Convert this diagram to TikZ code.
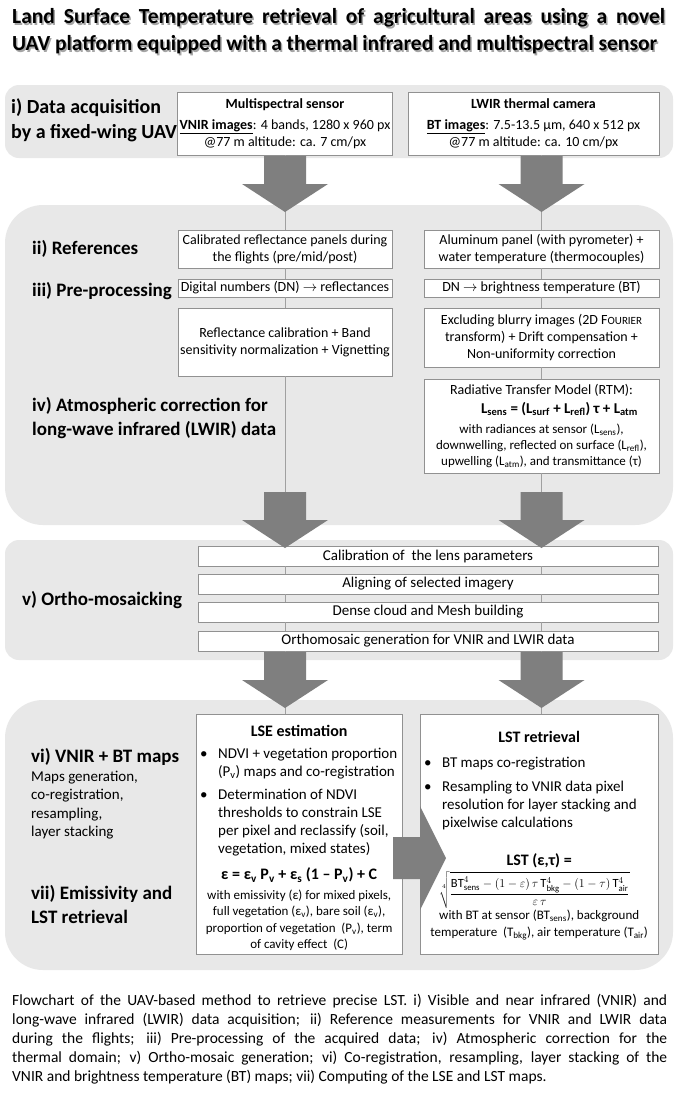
\documentclass[tikz,border=0pt]{standalone}
\usepackage{fontspec}
\setmainfont{Carlito}
\usetikzlibrary{positioning}
\definecolor{bandgray}{RGB}{232,232,232}
\definecolor{arrowgray}{RGB}{127,127,127}
\definecolor{boxline}{RGB}{145,145,145}
\definecolor{linkgray}{RGB}{160,160,160}
\definecolor{shadowgray}{RGB}{165,165,165}
\newcommand\boxfont{\fontsize{14}{17}\selectfont}
\newcommand\notefont{\fontsize{13}{16.5}\selectfont}
\newcommand\labelfont{\fontsize{19}{24}\selectfont\bfseries}
\newcommand\sub[1]{\textsubscript{#1}}
\newcommand\bul[1]{\par\hangindent=22pt\hangafter=1\noindent\makebox[22pt][l]{\hspace{4pt}\textbullet}#1\par}
\tikzset{%
  downblock/.pic={%
    \fill [arrowgray] (-21,0) -- (21,0) -- (21,28) -- (43,28) -- (0,56) -- (-43,28) -- (-21,28) -- cycle;
  },
  rightblock/.pic={%
    \fill [arrowgray] (0,-21) -- (27,-21) -- (27,-52) -- (53,0) -- (27,52) -- (27,21) -- (0,21) -- cycle;
  },
}

\begin{document}
\begin{tikzpicture}
    [x=1pt, y=-1pt,
    band/.style={fill=bandgray},
    box/.style={draw=boxline, fill=white, align=center, inner sep=2pt, font=\boxfont},
    link/.style={draw=linkgray, line width=0.8pt},
    seclabel/.style={anchor=west, align=left, inner sep=0pt, font=\labelfont},
    titleline/.style={anchor=west, inner sep=0pt, font=\fontsize{21.5}{21.5}\selectfont\bfseries}]
    \fill [white] (0,0) rectangle (679,1096);
    \useasboundingbox (0,0) rectangle (679,1096);

    % title with shadow
    \node [titleline, text=shadowgray] (titleAshadow) at (13.5,19.5)
    {\makebox[653pt][s]{Land Surface Temperature retrieval of agricultural areas using a novel}};
    \node [titleline] (titleA) at (12,18)
    {\makebox[653pt][s]{Land Surface Temperature retrieval of agricultural areas using a novel}};
    \node [titleline, text=shadowgray] (titleBshadow) at (13.5,46.5)
    {\makebox[645pt][s]{UAV platform equipped with a thermal infrared and multispectral sensor}};
    \node [titleline] (titleB) at (12,45)
    {\makebox[645pt][s]{UAV platform equipped with a thermal infrared and multispectral sensor}};

    % bands
    \fill [band, rounded corners=14pt] (5,85) rectangle (673,158);
    \fill [band, rounded corners=38pt] (5,205) rectangle (673,525);
    \fill [band, rounded corners=14pt] (5,540) rectangle (673,660);
    \fill [band, rounded corners=38pt] (5,700) rectangle (673,970);

    % section labels
    \node [seclabel, font=\fontsize{20}{25}\selectfont\bfseries] (labI) at (11,120) {i) Data acquisition\\by a fixed-wing UAV};
    \node [seclabel] (labII) at (32,249) {ii) References};
    \node [seclabel] (labIII) at (32,291) {iii) Pre-processing};
    \node [seclabel] (labIV) at (32,418) {iv) Atmospheric correction for\\long-wave infrared (LWIR) data};
    \node [seclabel] (labV) at (22,600) {v) Ortho-mosaicking};
    \node [seclabel] (labVI) at (31,757) {vi) VNIR + BT maps};
    \node [below=5pt of labVI.south west, anchor=north west, inner sep=0pt, align=left,
    font=\fontsize{15}{18.5}\selectfont] (labVIsub) {Maps generation,\\co-registration,\\resampling,\\layer stacking};
    \node [seclabel] (labVII) at (31,905) {vii) Emissivity and\\LST retrieval};

    % i) acquisition
    \node [box, minimum width=214pt, minimum height=63pt, font=\fontsize{14}{17}\selectfont] (msbox) at (285,123.5)
    {\textbf{Multispectral sensor}\\[4pt] \underline{\textbf{VNIR images}}: 4 bands, 1280 x 960 px\\ @77 m altitude: ca. 7 cm/px};
    \node [box, minimum width=251pt, minimum height=63pt, font=\fontsize{14}{17}\selectfont] (lwbox) at (533.5,123.5)
    {\textbf{LWIR thermal camera}\\[4pt] \underline{\textbf{BT images}}: 7.5-13.5 µm, 640 x 512 px\\ @77 m altitude: ca. 10 cm/px};

    % ii) - iv)
    \node [box, minimum width=214pt, minimum height=38pt] (refL) at (285,249)
    {Calibrated reflectance panels during\\the flights (pre/mid/post)};
    \node [box, minimum width=235pt, minimum height=38pt] (refR) at (541.5,249)
    {Aluminum panel (with pyrometer) +\\water temperature (thermocouples)};
    \node [box, minimum width=214pt, minimum height=18pt] (preL) at (285,288)
    {Digital numbers (DN) $\rightarrow$ reflectances};
    \node [box, minimum width=235pt, minimum height=18pt] (preR) at (541.5,288)
    {DN $\rightarrow$ brightness temperature (BT)};
    \node [box, minimum width=214pt, minimum height=68pt] (calibL) at (285,342)
    {Reflectance calibration + Band\\sensitivity normalization + Vignetting};
    \node [box, minimum width=235pt, minimum height=59pt] (blurR) at (541.5,337.5)
    {Excluding blurry images (2D F{\fontsize{11}{11}\selectfont OURIER}\\transform) + Drift compensation +\\Non-uniformity correction};
    \node [box, inner sep=0pt] (rtm) at (541.5,426)
    {\parbox[c][94pt][c]{235pt}{\centering Radiative Transfer Model (RTM):\par
    {\fontsize{15}{18.5}\selectfont\bfseries\hspace*{36pt}L\sub{sens} = (L\sub{surf} + L\sub{refl}) τ + L\sub{atm}\par}
    \vspace{4pt}
    {\fontsize{13}{16}\selectfont with radiances at sensor (L\sub{sens}),\\ downwelling, reflected on surface (L\sub{refl}),\\
    upwelling (L\sub{atm}), and transmittance (τ)\par}}};

    % v) ortho-mosaicking
    \node [box, minimum width=460pt, minimum height=20pt, font=\fontsize{15}{17}\selectfont] (lens) at (428,556)
    {Calibration of \ the lens parameters};
    \node [box, minimum width=460pt, minimum height=20pt, font=\fontsize{15}{17}\selectfont] (aligning) at (428,584)
    {Aligning of selected imagery};
    \node [box, minimum width=460pt, minimum height=20pt, font=\fontsize{15}{17}\selectfont] (dense) at (428,612)
    {Dense cloud and Mesh building};
    \node [box, minimum width=460pt, minimum height=20pt, font=\fontsize{15}{17}\selectfont] (ortho) at (428,641)
    {Orthomosaic generation for VNIR and LWIR data};

    % vi) - vii) maps
    \node [box, inner sep=0pt, anchor=north west, font=\fontsize{15}{18}\selectfont] (lse) at (196,714)
    {\parbox[t][240pt][t]{206pt}{\vspace*{11pt}
    \centering{\fontsize{16}{17}\selectfont\bfseries LSE estimation\par}
    \vspace{4pt}
    \raggedright
    \bul{NDVI + vegetation proportion\newline(P\sub{v}) maps and co-registration}
    \vspace{5pt}
    \bul{Determination of NDVI\newline thresholds to constrain LSE\newline per pixel and reclassify (soil,\newline vegetation, mixed states)}
    \vspace{8pt}
    \centering{\fontsize{16}{18}\selectfont\bfseries ε = ε\sub{v} P\sub{v} + ε\sub{s} (1 – P\sub{v}) + C\par}
    \vspace{3.5pt}
    {\notefont with emissivity (ε) for mixed pixels,\\ full vegetation (ε\sub{v}), bare soil (ε\sub{v}),\\
    proportion of vegetation \ (P\sub{v}), term\\ of cavity effect \ (C)\par}}};
    \node [box, inner sep=0pt, anchor=north west, font=\fontsize{15}{18}\selectfont] (lst) at (420,714)
    {\parbox[t][240pt][t]{238pt}{\vspace*{17pt}
    \centering{\fontsize{16}{17}\selectfont\bfseries LST retrieval\par}
    \vspace{7pt}
    \raggedright
    \bul{BT maps co-registration}
    \vspace{6pt}
    \bul{Resampling to VNIR data pixel\newline resolution for layer stacking and\newline pixelwise calculations}
    \vspace{21pt}
    \centering{\fontsize{16}{17}\selectfont\bfseries LST (ε,τ) =\par}
    \vspace{3pt}
    {\fontsize{12.5}{14}\selectfont\hspace*{-10pt}$\displaystyle\sqrt[4]{\frac{\mathrm{BT}^4_{\mathrm{sens}} - (1-\varepsilon)\,\tau\,\mathrm{T}^4_{\mathrm{bkg}}
    - (1-\tau)\,\mathrm{T}^4_{\mathrm{air}}}{\varepsilon\,\tau}}$\par}
    \vspace{1pt}
    {\notefont with BT at sensor (BT\sub{sens}), background\\ temperature \ (T\sub{bkg}), air temperature (T\sub{air})\par}}};

    % thin connectors
    \draw [link] (msbox.south) -- (refL.north);
    \draw [link] (lwbox.south -| refR.north) -- (refR.north);
    \draw [link] (refL.south) -- (preL.north);
    \draw [link] (preL.south) -- (calibL.north);
    \draw [link] (calibL.south) -- (lens.north -| calibL.south);
    \draw [link] (refR.south) -- (preR.north);
    \draw [link] (preR.south) -- (blurR.north);
    \draw [link] (blurR.south) -- (rtm.north);
    \draw [link] (rtm.south) -- (lens.north -| rtm.south);
    \foreach \a/\b in {lens/aligning, aligning/dense, dense/ortho}
      \foreach \c in {calibL, rtm}
        \draw [link] (\a.south -| \c.south) -- (\b.north -| \c.south);
    \draw [link] (ortho.south -| calibL.south) -- (lse.north -| calibL.south);
    \draw [link] (ortho.south -| rtm.south) -- (lst.north -| rtm.south);

    % block arrows
    \foreach \ytop in {156, 492, 652} {
      \pic at (285,\ytop) {downblock};
      \pic at (541.5,\ytop) {downblock};
    }
    \pic at (393,858) {rightblock};

    % caption
    \node [anchor=north west, inner sep=0pt, text width=655pt, align=justify, font=\fontsize{15.5}{19}\selectfont] (caption)
    at (12,994) {Flowchart of the UAV-based method to retrieve precise LST. i) Visible and near infrared (VNIR) and\linebreak
    long-wave infrared (LWIR) data acquisition; ii) Reference measurements for VNIR and LWIR data\linebreak
    during the flights; iii) Pre-processing of the acquired data; iv) Atmospheric correction for the\linebreak
    thermal domain; v) Ortho-mosaic generation; vi) Co-registration, resampling, layer stacking of the\linebreak
    VNIR and brightness temperature (BT) maps; vii) Computing of the LSE and LST maps.};
  \end{tikzpicture}
\end{document}
